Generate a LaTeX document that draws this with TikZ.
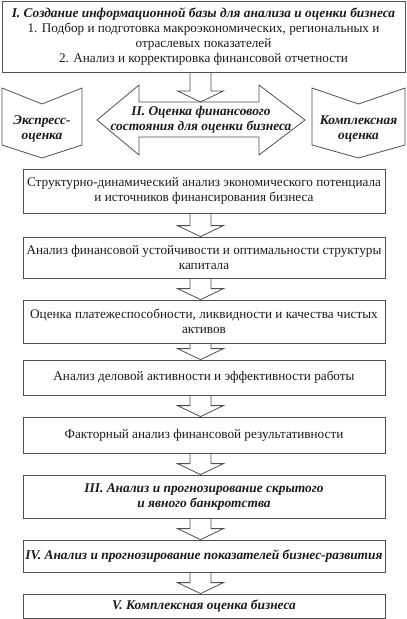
\documentclass[tikz,border=0pt]{standalone}
\usepackage{fontspec}
\setmainfont{Liberation Serif}
\usetikzlibrary{calc}
\definecolor{lc}{HTML}{505050}
\definecolor{tc}{HTML}{1A1A1A}
\newcommand\fsz{\fontsize{13.2}{15}\selectfont}
\newcommand\bi{\fontsize{13.4}{15}\selectfont\bfseries\itshape}
\newcommand\blockarrow[2]{%
  \draw[line] let \p1=(#1), \p2=(#2), \p3=(ax) in
    (\x3-10.5pt,\y1) -- (\x3-10.5pt,\y2+11pt) -- (\x3-23pt,\y2+11pt) -- (\x3,\y2)
    -- (\x3+23pt,\y2+11pt) -- (\x3+10.5pt,\y2+11pt) -- (\x3+10.5pt,\y1);}
\begin{document}
\begin{tikzpicture}[x=1pt,y=-1pt,
  line/.style={draw=lc, line width=0.8pt},
  box/.style={line, minimum width=362pt, inner sep=0pt, align=center, font=\fsz, text=tc},
  lbl/.style={align=center, font=\fsz, text=tc, inner sep=0pt}]
\useasboundingbox (0,0) rectangle (407,619);
\coordinate (ax) at (200.5,0);
% top box
\node[box, minimum width=403pt, minimum height=71pt] (top) at (203.5,36.5)
  {{\bi I. Создание информационной базы для анализа и оценки бизнеса}\\
   1. Подбор и подготовка макроэкономических, региональных и\\
   отраслевых показателей\\
   2. Анализ и корректировка финансовой отчетности};
\coordinate (dtop) at (200.5,102);
\blockarrow{top.south}{dtop}
% double arrow
\draw[line] (97,120) -- (139,85) -- (139,102) -- (259,102) -- (259,85) -- (305,120)
  -- (259,155) -- (259,137) -- (139,137) -- (139,155) -- cycle;
\node[lbl, font=\bi] (dbl) at (201,119.5) {II. Оценка финансового\\состояния для оценки бизнеса};
% side chevrons
\draw[line] (2,88) -- (42,104) -- (82,88) -- (82,145) -- (42,158) -- (2,145) -- cycle;
\node[lbl, font=\bi] (ex) at (42,129) {Экспресс-\\оценка};
\draw[line] (312,88) -- (358.5,104) -- (405,88) -- (405,145) -- (358.5,158) -- (312,145) -- cycle;
\node[lbl, font=\bi] (kom) at (358.5,129) {Комплексная\\оценка};
% boxes
\node[box, minimum height=44pt] (b1) at (204,191)
  {Структурно-динамический анализ экономического потенциала\\и источников финансирования бизнеса};
\node[box, minimum height=41pt] (b2) at (204,257.5)
  {Анализ финансовой устойчивости и оптимальности структуры\\капитала};
\node[box, minimum height=43pt] (b3) at (204,321.5)
  {Оценка платежеспособности, ликвидности и качества чистых\\активов};
\node[box, minimum height=35pt] (b4) at (204,377.5)
  {Анализ деловой активности и эффективности работы};
\node[box, minimum height=36pt] (b5) at (204,435)
  {Факторный анализ финансовой результативности};
\node[box, minimum height=43pt, font=\bi] (b6) at (204,496.5)
  {III. Анализ и прогнозирование скрытого\\и явного банкротства};
\node[box, minimum height=32pt, font=\bi] (b7) at (204,556)
  {IV. Анализ и прогнозирование показателей бизнес-развития};
\node[box, minimum height=24pt, font=\bi] (b8) at (204,606)
  {V. Комплексная оценка бизнеса};
\blockarrow{b1.south}{b2.north}
\blockarrow{b2.south}{b3.north}
\blockarrow{b3.south}{b4.north}
\blockarrow{b4.south}{b5.north}
\blockarrow{b5.south}{b6.north}
\blockarrow{b6.south}{b7.north}
\blockarrow{b7.south}{b8.north}
\end{tikzpicture}
\end{document}
